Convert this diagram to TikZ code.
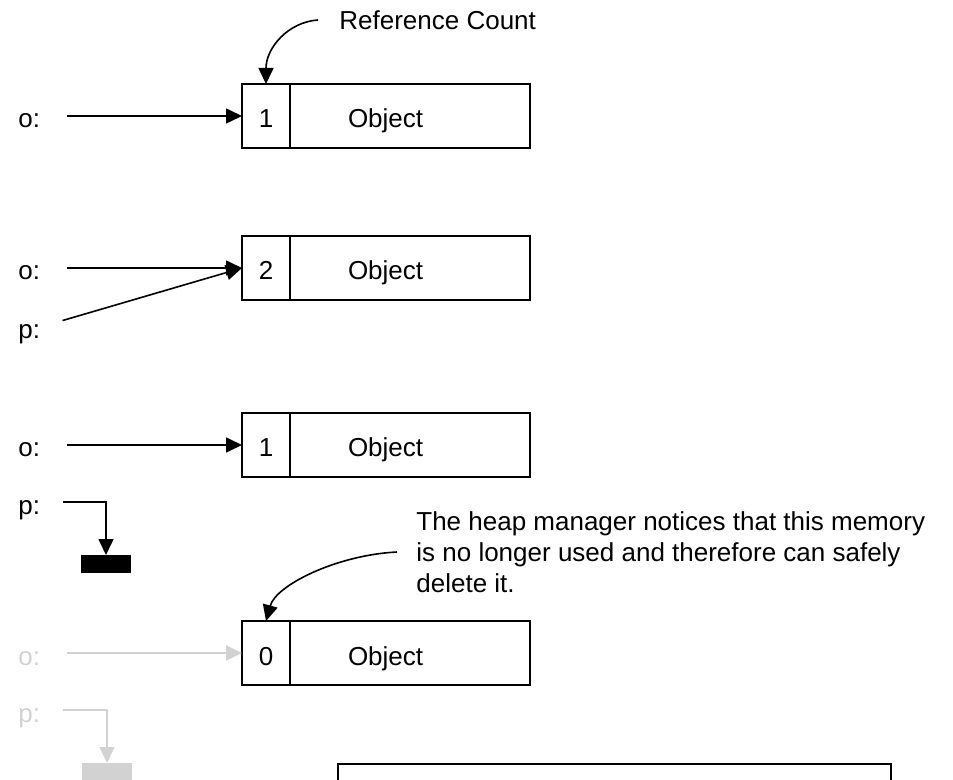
\documentclass[tikz,border=0pt]{standalone}
\usepackage{fontspec}
\setmainfont{Liberation Sans}
\usetikzlibrary{arrows.meta,positioning}
\definecolor{ghost}{RGB}{210,210,210}

\begin{document}
\begin{tikzpicture}[
    x=0.5pt, y=-0.5pt,
    font=\fontsize{13}{15.5}\selectfont,
    cnt/.style={draw, line width=1pt, minimum width=24pt, minimum height=32pt, inner sep=0pt, outer sep=0pt, text height=12pt, text depth=0pt},
    obj/.style={draw, line width=1pt, minimum height=32pt, text width=62pt, inner xsep=29pt, inner ysep=0pt, outer sep=0pt, align=left, text height=12pt, text depth=0pt},
    var/.style={anchor=west, inner sep=0pt, text height=12pt, text depth=0pt},
    bar/.style={fill=black, minimum width=25pt, minimum height=9pt, inner sep=0pt, anchor=north},
    arr/.style={-{Triangle[length=8pt,width=7.5pt]}, line width=0.8pt}
  ]
  \useasboundingbox (0,0) rectangle (953,780);

  % one reference
  \node[cnt] (c1) at (266,116) {1};
  \node[obj, right=0pt of c1] (b1) {Object};
  \node[var] (o1) at (18,116) {o:};
  \draw[arr, shorten <=13.5pt] (o1.east) -- (c1.west);
  \node[anchor=west, inner xsep=10.5pt] (rc) at (318,20) {Reference Count};
  \draw[arr] (rc.west) .. controls +(-30,2) and +(0,-36) .. (c1.north);

  % two references
  \node[cnt] (c2) at (266,268) {2};
  \node[obj, right=0pt of c2] (b2) {Object};
  \node[var] (o2) at (18,268) {o:};
  \node[var] (p2) at (18,327) {p:};
  \draw[arr, shorten <=13.5pt] (o2.east) -- (c2.west);
  \draw[arr, shorten <=11.5pt] (p2.east) -- (c2.west);

  % p set to null
  \node[cnt] (c3) at (266,445) {1};
  \node[obj, right=0pt of c3] (b3) {Object};
  \node[var] (o3) at (18,445) {o:};
  \node[var] (p3) at (18,502) {p:};
  \node[bar] (n3) at (106,555) {};
  \draw[arr, shorten <=13.5pt] (o3.east) -- (c3.west);
  \draw[arr, shorten <=11.5pt] (p3.east) -| (n3.north);

  % no references left
  \node[cnt] (c4) at (266,653) {0};
  \node[obj, right=0pt of c4] (b4) {Object};
  \node[var, text=ghost] (o4) at (18,653) {o:};
  \node[var, text=ghost] (p4) at (18,710) {p:};
  \node[bar, fill=ghost] (n4) at (107,763) {};
  \draw[arr, ghost, shorten <=13.5pt] (o4.east) -- (c4.west);
  \draw[arr, ghost, shorten <=11.5pt] (p4.east) -| (n4.north);
  \node[anchor=west, inner xsep=9.5pt, align=left] (hn) at (397,552)
    {The heap manager notices that this memory\\is no longer used and therefore can safely\\delete it.};
  \draw[arr] (hn.west) .. controls +(-60,3) and +(10,-36) .. (c4.north);

  \node[draw, line width=1pt, minimum width=276.5pt, minimum height=30pt, inner sep=0pt, anchor=north west] (frame) at (337,763) {};
\end{tikzpicture}
\end{document}
